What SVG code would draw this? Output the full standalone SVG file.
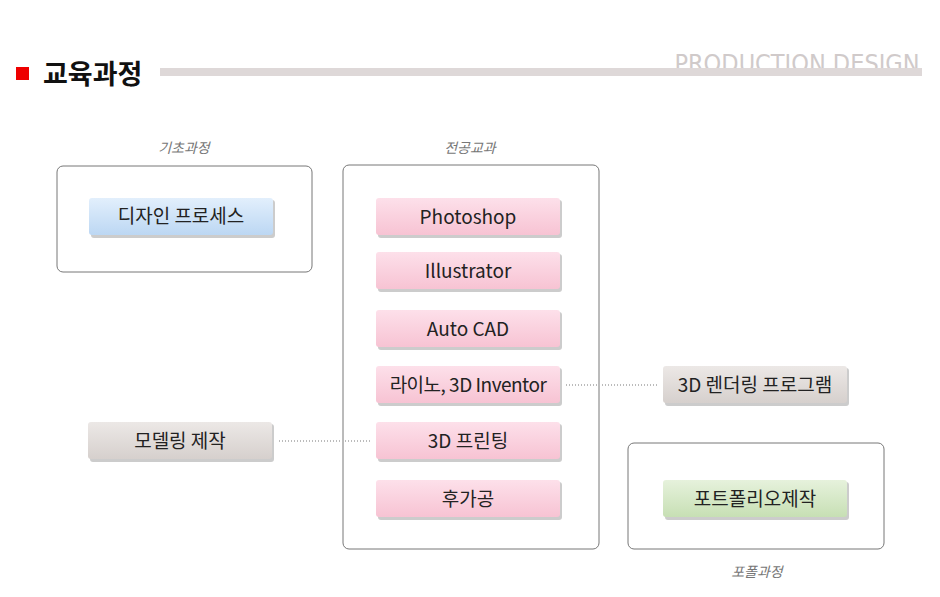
<svg xmlns="http://www.w3.org/2000/svg" width="940" height="597" viewBox="0 0 940 597">
<defs>
<linearGradient id="gp" x1="0" y1="0" x2="0" y2="1"><stop offset="0" stop-color="#fde0ea"/><stop offset="1" stop-color="#f7c3d3"/></linearGradient>
<linearGradient id="gb" x1="0" y1="0" x2="0" y2="1"><stop offset="0" stop-color="#e2effc"/><stop offset="1" stop-color="#bcd7f3"/></linearGradient>
<linearGradient id="gg" x1="0" y1="0" x2="0" y2="1"><stop offset="0" stop-color="#ece8e6"/><stop offset="1" stop-color="#d6d0cd"/></linearGradient>
<linearGradient id="gn" x1="0" y1="0" x2="0" y2="1"><stop offset="0" stop-color="#e6f2dc"/><stop offset="1" stop-color="#c7dfb4"/></linearGradient>
</defs>
<style>
text{font-family:"Noto Sans CJK KR","Noto Sans",sans-serif}
.box{fill:#fff;stroke:#777;stroke-width:1}
.sh{fill:#aaa;opacity:.6}
.lbl{font-size:19px;fill:#222;text-anchor:middle}
.cap{font-size:14px;fill:#777;text-anchor:middle;font-style:italic}
.dot{stroke:#bbb;stroke-width:2;stroke-dasharray:1 2;fill:none}
</style>
<rect width="940" height="597" fill="#fff"/>
<text x="797" y="72" font-family="'Liberation Sans',sans-serif" font-size="25" fill="#d0caca" text-anchor="middle" style="font-family:'DejaVu Sans Condensed','Liberation Sans',sans-serif">PRODUCTION DESIGN</text>
<rect x="160" y="68" width="762" height="8" fill="#ded8d8"/>
<rect x="16" y="67" width="13" height="13" fill="#ee0000"/>
<text x="43" y="84" font-size="27" font-weight="bold" fill="#111">교육과정</text>
<text class="cap" x="184" y="153">기초과정</text>
<text class="cap" x="470" y="153">전공교과</text>
<text class="cap" x="757" y="577">포폴과정</text>
<g id="g-basic"><rect class="box" x="57" y="166" width="255" height="106" rx="6"/></g>
<g id="g-major"><rect class="box" x="343" y="165" width="256" height="384" rx="6"/></g>
<g id="g-port"><rect class="box" x="628" y="443" width="256" height="106" rx="6"/></g>
<g id="connectors">
<line class="dot" x1="566" y1="385" x2="657" y2="385"/>
<line class="dot" x1="279" y1="441" x2="371" y2="441"/>
</g>
<g id="n-design"><rect class="sh" x="91" y="200" width="184" height="38" rx="3"/><rect x="89" y="198" width="184" height="37" rx="3" fill="url(#gb)"/><text class="lbl" x="181" y="223">디자인 프로세스</text></g>
<g id="n-ps"><rect class="sh" x="378" y="200" width="184" height="38" rx="3"/><rect x="376" y="198" width="184" height="37" rx="3" fill="url(#gp)"/><text class="lbl" x="468" y="224">Photoshop</text></g>
<g id="n-ai"><rect class="sh" x="378" y="254" width="184" height="38" rx="3"/><rect x="376" y="252" width="184" height="37" rx="3" fill="url(#gp)"/><text class="lbl" x="468" y="278">Illustrator</text></g>
<g id="n-cad"><rect class="sh" x="378" y="312" width="184" height="38" rx="3"/><rect x="376" y="310" width="184" height="37" rx="3" fill="url(#gp)"/><text class="lbl" x="468" y="336">Auto CAD</text></g>
<g id="n-rhino"><rect class="sh" x="378" y="368" width="184" height="38" rx="3"/><rect x="376" y="366" width="184" height="37" rx="3" fill="url(#gp)"/><text class="lbl" x="468" y="392" style="letter-spacing:-0.5px">라이노, 3D Inventor</text></g>
<g id="n-print"><rect class="sh" x="378" y="424" width="184" height="38" rx="3"/><rect x="376" y="422" width="184" height="37" rx="3" fill="url(#gp)"/><text class="lbl" x="468" y="448">3D 프린팅</text></g>
<g id="n-post"><rect class="sh" x="378" y="482" width="184" height="38" rx="3"/><rect x="376" y="480" width="184" height="37" rx="3" fill="url(#gp)"/><text class="lbl" x="468" y="506">후가공</text></g>
<g id="n-render"><rect class="sh" x="665" y="368" width="184" height="38" rx="3"/><rect x="663" y="366" width="184" height="37" rx="3" fill="url(#gg)"/><text class="lbl" x="755" y="392">3D 렌더링 프로그램</text></g>
<g id="n-model"><rect class="sh" x="90" y="424" width="184" height="38" rx="3"/><rect x="88" y="422" width="184" height="37" rx="3" fill="url(#gg)"/><text class="lbl" x="180" y="448">모델링 제작</text></g>
<g id="n-portfolio"><rect class="sh" x="665" y="482" width="184" height="38" rx="3"/><rect x="663" y="480" width="184" height="37" rx="3" fill="url(#gn)"/><text class="lbl" x="755" y="506">포트폴리오제작</text></g>
</svg>
